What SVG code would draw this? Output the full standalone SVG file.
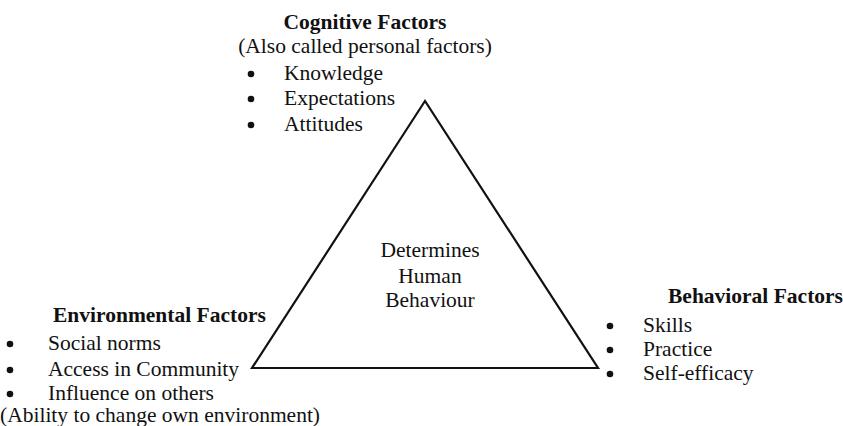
<svg xmlns="http://www.w3.org/2000/svg" width="843" height="426" viewBox="0 0 843 426">
  <style>
    text { font-family: "Liberation Serif", "Times New Roman", Times, "DejaVu Serif", serif; font-size: 21.5px; fill: #111; }
    .title { font-weight: bold; }
    .mid { text-anchor: middle; }
  </style>
  <defs>
    <circle id="dot" r="3.3" fill="#111"/>
  </defs>
  <rect width="843" height="426" fill="#fff"/>

  <g id="connectors">
    <polygon points="425,101 252,368 598,368" fill="none" stroke="#111" stroke-width="2.2" stroke-linejoin="miter"/>
  </g>

  <g id="center">
    <text class="mid" x="430" y="257">Determines</text>
    <text class="mid" x="430" y="283">Human</text>
    <text class="mid" x="430" y="307">Behaviour</text>
  </g>

  <g id="cognitive">
    <text class="title mid" x="365" y="29">Cognitive Factors</text>
    <text class="mid" x="365" y="53">(Also called personal factors)</text>
    <use href="#dot" x="251" y="74"/>
    <text x="284" y="80">Knowledge</text>
    <use href="#dot" x="251" y="99"/>
    <text x="284" y="105">Expectations</text>
    <use href="#dot" x="251" y="125"/>
    <text x="284" y="131">Attitudes</text>
  </g>

  <g id="environmental">
    <text class="title" x="53" y="322">Environmental Factors</text>
    <use href="#dot" x="10" y="344"/>
    <text x="48" y="350">Social norms</text>
    <use href="#dot" x="10" y="370"/>
    <text x="48" y="376">Access in Community</text>
    <use href="#dot" x="10" y="394"/>
    <text x="48" y="400">Influence on others</text>
    <text x="0" y="422">(Ability to change own environment)</text>
  </g>

  <g id="behavioral">
    <text class="title" x="668" y="303">Behavioral Factors</text>
    <use href="#dot" x="610" y="326"/>
    <text x="643" y="332">Skills</text>
    <use href="#dot" x="610" y="350"/>
    <text x="643" y="356">Practice</text>
    <use href="#dot" x="610" y="374"/>
    <text x="643" y="380">Self-efficacy</text>
  </g>
</svg>
